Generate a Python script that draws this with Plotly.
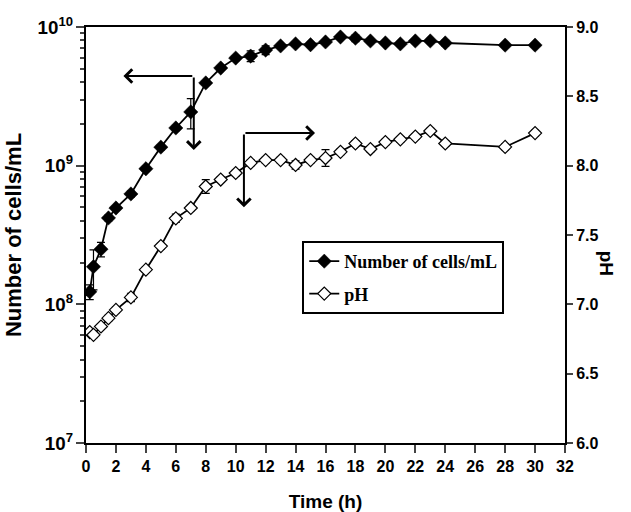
import plotly.graph_objects as go

# ---- data ----
time_h = [0.25, 0.5, 1, 1.5, 2, 3, 4, 5, 6, 7, 8, 9, 10, 11, 12, 13, 14, 15, 16,
          17, 18, 19, 20, 21, 22, 23, 24, 28, 30]
cells = [1.23e8, 1.87e8, 2.5e8, 4.2e8, 4.95e8, 6.25e8, 9.5e8, 1.36e9, 1.87e9, 2.44e9,
         3.95e9, 5.06e9, 5.97e9, 6.17e9, 6.82e9, 7.3e9, 7.55e9, 7.45e9, 7.8e9,
         8.47e9, 8.3e9, 7.93e9, 7.67e9, 7.55e9, 7.93e9, 7.93e9, 7.67e9, 7.4e9, 7.4e9]
cells_err = [0.15e8, 0.6e8, 0.3e8, 0.2e8, 0.2e8, 0.3e8, 0.4e8, 0.6e8, 0.8e8, 0.6e9,
             1.5e8, 1.5e8, 2.5e8, 0.55e9, 0.5e9, 2e8, 2e8, 2e8, 2e8,
             3e8, 0.45e9, 2e8, 2e8, 2e8, 2e8, 2e8, 0.35e9, 2e8, 2e8]
ph = [6.80, 6.78, 6.84, 6.90, 6.96, 7.05, 7.25, 7.42, 7.62, 7.695,
      7.85, 7.90, 7.947, 8.02, 8.04, 8.04, 8.005, 8.04, 8.055,
      8.10, 8.16, 8.12, 8.17, 8.19, 8.21, 8.25, 8.16, 8.135, 8.235]
ph_err = [0.02, 0.02, 0.02, 0.02, 0.02, 0.03, 0.02, 0.02, 0.03, 0.02,
          0.05, 0.02, 0.02, 0.02, 0.02, 0.02, 0.03, 0.02, 0.06,
          0.02, 0.02, 0.02, 0.02, 0.02, 0.02, 0.02, 0.02, 0.02, 0.02]

x_ticks = list(range(0, 33, 2))
ph_ticks = [6.0, 6.5, 7.0, 7.5, 8.0, 8.5, 9.0]

# arrow annotations (corner, tips) in data coordinates
arrow1_corner = (7.2, 9.647)      # cells axis (log10)
arrow1_left_tip = (2.5, 9.647)
arrow1_down_tip = (7.2, 9.113)
arrow2_corner = (10.55, 8.236)    # pH axis
arrow2_down_tip = (10.55, 7.70)
arrow2_right_tip = (15.3, 8.236)

TICK_FONT = dict(family="Liberation Sans, Arial, sans-serif", size=16, color="black", weight="bold")
TITLE_FONT = dict(family="Liberation Sans, Arial, sans-serif", size=19, color="black", weight="bold")

fig = go.Figure()

fig.add_trace(go.Scatter(
    x=time_h, y=cells, name="Number of cells/mL", mode="lines+markers",
    legendgroup="a",
    line=dict(color="black", width=1.8),
    marker=dict(symbol="diamond", size=11, color="black", line=dict(color="black", width=0.5)),
    error_y=dict(type="data", array=cells_err, color="black", thickness=1.2, width=4),
    yaxis="y",
))
fig.add_trace(go.Scatter(
    x=time_h, y=ph, name="pH", mode="lines+markers",
    legendgroup="b",
    line=dict(color="black", width=1.8),
    marker=dict(symbol="diamond", size=10, color="white", line=dict(color="black", width=1.2)),
    error_y=dict(type="data", array=ph_err, color="black", thickness=1.2, width=4),
    yaxis="y2",
))

arrow_style = dict(showarrow=True, text="", arrowhead=4, arrowsize=1.3, arrowwidth=2,
                   arrowcolor="black", standoff=0, startstandoff=0)
fig.add_annotation(x=arrow1_left_tip[0], y=arrow1_left_tip[1], ax=arrow1_corner[0], ay=arrow1_corner[1],
                   xref="x", yref="y", axref="x", ayref="y", **arrow_style)
fig.add_annotation(x=arrow1_down_tip[0], y=arrow1_down_tip[1], ax=arrow1_corner[0], ay=arrow1_corner[1],
                   xref="x", yref="y", axref="x", ayref="y", **arrow_style)
fig.add_annotation(x=arrow2_down_tip[0], y=arrow2_down_tip[1], ax=arrow2_corner[0], ay=arrow2_corner[1],
                   xref="x", yref="y2", axref="x", ayref="y2", **arrow_style)
fig.add_annotation(x=arrow2_right_tip[0], y=arrow2_right_tip[1], ax=arrow2_corner[0], ay=arrow2_corner[1],
                   xref="x", yref="y2", axref="x", ayref="y2", **arrow_style)

# right axis title, rotated clockwise
fig.add_annotation(text="pH", xref="paper", yref="paper", x=1.112, y=0.433,
                   showarrow=False, textangle=90, font=TITLE_FONT)

fig.update_layout(
    width=631, height=512,
    margin=dict(l=80, r=66, t=27, b=69),
    plot_bgcolor="white", paper_bgcolor="white",
    showlegend=True,
    legend=dict(x=0.4515, y=0.4856, xanchor="left", yanchor="top",
                bgcolor="white", bordercolor="black", borderwidth=2,
                tracegroupgap=6,
                font=dict(family="Liberation Serif, Times New Roman, serif", size=18,
                          color="black", weight="bold")),
    xaxis=dict(range=[0, 32], tickvals=x_ticks, ticks="outside", ticklen=8, tickwidth=2,
               showline=True, linewidth=2, linecolor="black", mirror=True,
               showgrid=False, zeroline=False, tickfont=TICK_FONT, automargin=False,
               title=dict(text="Time (h)", font=TITLE_FONT, standoff=20)),
    yaxis=dict(type="log", range=[7, 10], dtick=1, exponentformat="power",
               ticks="outside", ticklen=8, tickwidth=2,
               minor=dict(ticks="outside", ticklen=4, tickwidth=1.5, showgrid=False),
               showline=True, linewidth=2, linecolor="black",
               showgrid=False, zeroline=False, tickfont=dict(TICK_FONT, size=15),
               title=dict(text="Number of cells/mL", font=dict(TITLE_FONT, size=22), standoff=10)),
    yaxis2=dict(overlaying="y", side="right", range=[6, 9], tickvals=ph_ticks,
                tickformat=".1f", ticks="outside", ticklen=6, tickwidth=2,
                showline=True, linewidth=2, linecolor="black",
                showgrid=False, zeroline=False, tickfont=TICK_FONT),
)

fig.write_html("out.html")
